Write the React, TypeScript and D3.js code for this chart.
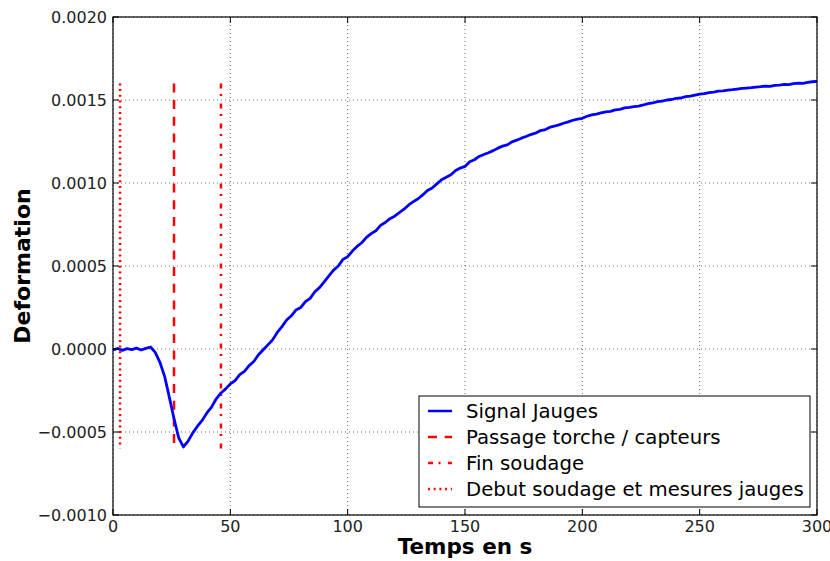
import React from "react";
import * as d3 from "d3";

// Time (s) and strain signal in micro-units (×1e-6), step 2 s
const times: number[] = d3.range(0, 301, 2);
const signalMicro: number[] = [
  -5, 3, -8, 2, -4, 5, -6, 4, 12, -20,
  -80, -165, -290, -420, -535, -590, -555, -505, -465, -430,
  -385, -350, -300, -265, -240, -210, -190, -155, -135, -100,
  -75, -35, -5, 25, 55, 100, 135, 175, 200, 235,
  250, 285, 305, 345, 370, 405, 440, 475, 500, 540,
  556, 590, 618, 640, 672, 695, 712, 745, 762, 785,
  800, 822, 842, 868, 888, 905, 928, 955, 970, 995,
  1020, 1035, 1050, 1075, 1090, 1100, 1128, 1140, 1160, 1172,
  1182, 1195, 1210, 1222, 1230, 1248, 1258, 1270, 1280, 1292,
  1300, 1315, 1320, 1335, 1342, 1350, 1360, 1368, 1378, 1385,
  1390, 1402, 1410, 1415, 1422, 1428, 1432, 1440, 1444, 1452,
  1455, 1460, 1463, 1470, 1478, 1482, 1490, 1493, 1500, 1503,
  1510, 1512, 1520, 1524, 1530, 1536, 1538, 1545, 1548, 1553,
  1555, 1560, 1562, 1566, 1570, 1572, 1574, 1578, 1580, 1584,
  1582, 1588, 1590, 1594, 1593, 1598, 1602, 1600, 1606, 1610,
  1612,
];

const markerNames: string[] = [
  "Passage torche / capteurs",
  "Fin soudage",
  "Debut soudage et mesures jauges",
];
const markerTimes: number[] = [26, 46, 3];
const markerTop = 0.0016;
const markerBottom = -0.0006;

const xTicks: number[] = [0, 50, 100, 150, 200, 250, 300];
const yTicks: number[] = [-0.001, -0.0005, 0, 0.0005, 0.001, 0.0015, 0.002];
const signalName = "Signal Jauges";

const W = 830;
const H = 561;
const L = 113;
const R = 817;
const T = 17;
const B = 515;

const dashes: string[] = ["9,7.7", "5,5.5,2,7.5", "2,3.7"];

export default function App() {
  const x = d3.scaleLinear().domain([0, 300]).range([L, R]);
  const y = d3.scaleLinear().domain([-0.001, 0.002]).range([B, T]);
  const data = times.map((t, i) => [t, signalMicro[i] / 1e6] as [number, number]);
  const line = d3
    .line<[number, number]>()
    .x((d) => x(d[0]))
    .y((d) => y(d[1]));

  const font = "DejaVu Sans, sans-serif";
  const legX = 419;
  const legY = 396;
  const legW = 391;
  const legH = 111;
  const rowY = (i: number) => legY + 15 + i * 26;
  const legendItems = [
    { name: signalName, color: "#0000ff", dash: "none", w: 2.5 },
    ...markerNames.map((n, i) => ({ name: n, color: "#ff0000", dash: dashes[i], w: 2.5 })),
  ];

  return (
    <svg
      width={W}
      height={H}
      style={{ position: "absolute", left: 0, top: 0, background: "#fff" }}
      fontFamily={font}
    >
      <rect x={0} y={0} width={W} height={H} fill="#fff" />
      {/* grid */}
      {xTicks.map((t) => (
        <line key={"gx" + t} x1={x(t)} x2={x(t)} y1={T} y2={B} stroke="#444" strokeWidth={0.8} strokeDasharray="1,3" />
      ))}
      {yTicks.map((t) => (
        <line key={"gy" + t} x1={L} x2={R} y1={y(t)} y2={y(t)} stroke="#444" strokeWidth={0.8} strokeDasharray="1,3" />
      ))}
      {/* markers */}
      {markerTimes.map((t, i) => (
        <line
          key={"m" + i}
          x1={x(t)}
          x2={x(t)}
          y1={y(markerTop)}
          y2={y(markerBottom)}
          stroke="#ff0000"
          strokeWidth={2.5}
          strokeDasharray={dashes[i]}
        />
      ))}
      {/* signal */}
      <path d={line(data) ?? ""} fill="none" stroke="#0000ff" strokeWidth={2.8} strokeLinejoin="round" />
      {/* ticks */}
      {xTicks.map((t) => (
        <g key={"tx" + t}>
          <line x1={x(t)} x2={x(t)} y1={B} y2={B - 6} stroke="#000" />
          <line x1={x(t)} x2={x(t)} y1={T} y2={T + 6} stroke="#000" />
          <text x={x(t)} y={532} textAnchor="middle" fontSize={16} fill="#222">
            {t}
          </text>
        </g>
      ))}
      {yTicks.map((t) => (
        <g key={"ty" + t}>
          <line x1={L} x2={L + 6} y1={y(t)} y2={y(t)} stroke="#000" />
          <line x1={R} x2={R - 6} y1={y(t)} y2={y(t)} stroke="#000" />
          <text x={107} y={y(t) + 6} textAnchor="end" fontSize={16} fill="#222">
            {t === 0 ? "0.0000" : d3.format(".4f")(t).replace("-", "\u2212")}
          </text>
        </g>
      ))}
      <rect x={L} y={T} width={R - L} height={B - T} fill="none" stroke="#000" strokeWidth={1.2} />
      {/* axis labels */}
      <text x={(L + R) / 2} y={554} textAnchor="middle" fontSize={21.5} fontWeight="bold">
        Temps en s
      </text>
      <text
        transform={`translate(30,${(T + B) / 2}) rotate(-90)`}
        textAnchor="middle"
        fontSize={22}
        fontWeight="bold"
      >
        Deformation
      </text>
      {/* legend */}
      <rect x={legX} y={legY} width={legW} height={legH} fill="#fff" stroke="#000" strokeWidth={1} />
      {legendItems.map((it, i) => (
        <g key={"lg" + i}>
          <line
            x1={428}
            x2={452}
            y1={rowY(i)}
            y2={rowY(i)}
            stroke={it.color}
            strokeWidth={it.w}
            strokeDasharray={it.dash}
          />
          <text x={466} y={rowY(i) + 7} fontSize={19.7} fill="#000">
            {it.name}
          </text>
        </g>
      ))}
    </svg>
  );
}
